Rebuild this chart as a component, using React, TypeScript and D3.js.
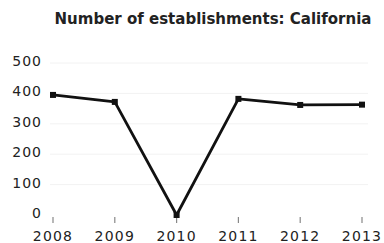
import React, { useRef, useEffect } from "react";
import * as d3 from "d3";

const years = ["2008", "2009", "2010", "2011", "2012", "2013"];
const establishments = [395, 372, 0, 382, 362, 363];
const yTicks = [0, 100, 200, 300, 400, 500];
const title = "Number of establishments: California";

const W = 384;
const H = 243;

const App = () => {
  const ref = useRef<SVGSVGElement>(null);

  useEffect(() => {
    const svg = d3.select(ref.current);
    svg.selectAll("*").remove();

    const x = d3.scalePoint().domain(years).range([53, 362]);
    const y = d3.scaleLinear().domain([0, 500]).range([215, 63]);

    // faint grid
    svg
      .append("g")
      .selectAll("line")
      .data(yTicks.slice(1))
      .enter()
      .append("line")
      .attr("x1", 50)
      .attr("x2", 368)
      .attr("y1", (d) => y(d))
      .attr("y2", (d) => y(d))
      .attr("stroke", "#f2f2f2")
      .attr("stroke-width", 1);

    // title
    svg
      .append("text")
      .attr("x", 213)
      .attr("y", 24)
      .attr("text-anchor", "middle")
      .attr("font-family", "DejaVu Sans")
      .attr("font-weight", "bold")
      .attr("font-size", 15)
      .attr("fill", "#222")
      .text(title);

    // y labels
    svg
      .append("g")
      .selectAll("text")
      .data(yTicks)
      .enter()
      .append("text")
      .attr("x", 42)
      .attr("y", (d) => y(d) - 2)
      .attr("dy", "0.35em")
      .attr("text-anchor", "end")
      .attr("font-family", "DejaVu Sans")
      .attr("font-size", 14)
      .attr("letter-spacing", 1)
      .attr("fill", "#222")
      .text((d) => d);

    // x ticks
    svg
      .append("g")
      .selectAll("line")
      .data(years)
      .enter()
      .append("line")
      .attr("x1", (d) => x(d)!)
      .attr("x2", (d) => x(d)!)
      .attr("y1", 217)
      .attr("y2", 223)
      .attr("stroke", "#888")
      .attr("stroke-width", 1.2);

    // x labels
    svg
      .append("g")
      .selectAll("text")
      .data(years)
      .enter()
      .append("text")
      .attr("x", (d) => x(d)!)
      .attr("y", 241)
      .attr("text-anchor", "middle")
      .attr("font-family", "DejaVu Sans")
      .attr("font-size", 14)
      .attr("letter-spacing", 1.2)
      .attr("fill", "#222")
      .text((d) => d);

    const pts = years.map((yr, i) => [x(yr)!, y(establishments[i])] as [number, number]);

    svg
      .append("path")
      .attr("d", d3.line()(pts))
      .attr("fill", "none")
      .attr("stroke", "#111")
      .attr("stroke-width", 2.8)
      .attr("stroke-linejoin", "round");

    svg
      .append("g")
      .selectAll("rect")
      .data(pts)
      .enter()
      .append("rect")
      .attr("x", (d) => d[0] - 3)
      .attr("y", (d) => d[1] - 3)
      .attr("width", 6)
      .attr("height", 6)
      .attr("fill", "#111");
  }, []);

  return (
    <svg
      ref={ref}
      width={W}
      height={H}
      style={{ position: "absolute", left: 0, top: 0, background: "#fff" }}
    ></svg>
  );
};

export default App;
